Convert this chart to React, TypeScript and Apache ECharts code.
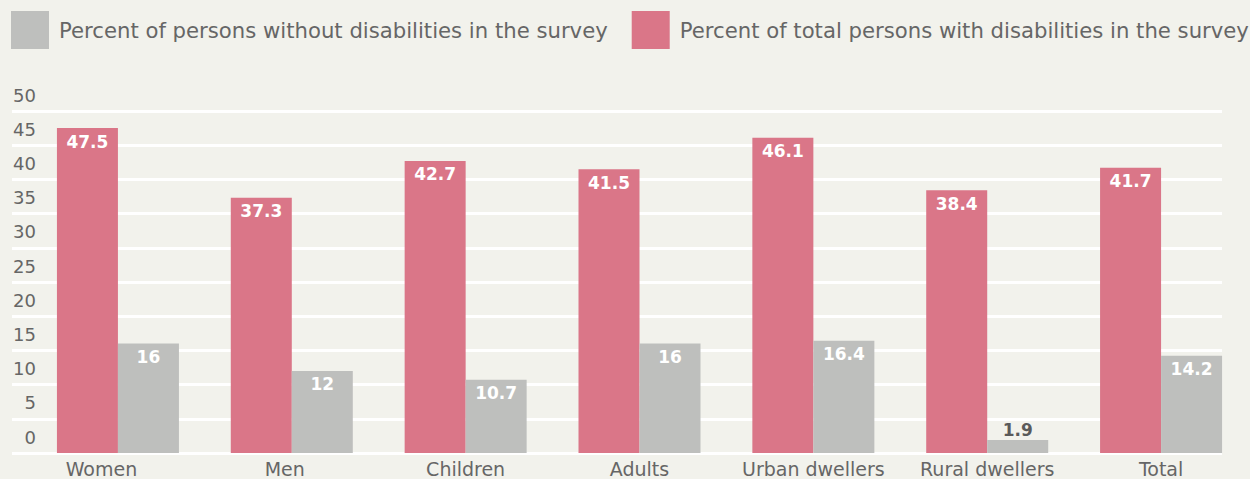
import React, { useEffect, useRef } from "react";
import * as echarts from "echarts";

const categories = ["Women", "Men", "Children", "Adults", "Urban dwellers", "Rural dwellers", "Total"];
const withDisabilities = [47.5, 37.3, 42.7, 41.5, 46.1, 38.4, 41.7];
const withoutDisabilities = [16, 12, 10.7, 16, 16.4, 1.9, 14.2];
const labelPadRight = [33, 14, 0, 0, 0, 0, 0];

const nameWithout = "Percent of persons without disabilities in the survey";
const nameWith = "Percent of total persons with disabilities in the survey";

const FONT = "'DejaVu Sans', sans-serif";
const PINK = "#da7688";
const GRAY = "#bebfbd";
const BG = "#f2f2ec";
const TXT = "#666666";

export default function App() {
  const ref = useRef<HTMLDivElement>(null);
  useEffect(() => {
    if (!ref.current) return;
    const chart = echarts.init(ref.current, null, { renderer: "svg" });
    const rich: any = {};
    labelPadRight.forEach((p, i) => {
      rich["c" + i] = { fontFamily: FONT, fontSize: 19, color: TXT, padding: [0, p, 0, 0] };
    });
    chart.setOption({
      animation: false,
      backgroundColor: BG,
      textStyle: { fontFamily: FONT },
      legend: {
        left: 11,
        top: 11,
        width: 1249,
        padding: 0,
        itemWidth: 38,
        itemHeight: 38,
        itemGap: 24,
        icon: "rect",
        data: [nameWithout, nameWith],
        textStyle: { fontFamily: FONT, fontSize: 21.2, color: TXT, padding: [7, 0, 0, 5] },
      },
      grid: [
        { left: 12, right: 28, top: 111, bottom: 26 },
        { left: 31, right: 2, top: 111, bottom: 26 },
      ],
      xAxis: [
        { gridIndex: 0, type: "value", show: false, min: 0, max: 1 },
        {
          gridIndex: 1,
          type: "category",
          data: categories,
          axisLine: { show: false },
          axisTick: { show: false },
          splitLine: { show: false },
          axisLabel: {
            interval: 0,
            margin: 6,
            fontFamily: FONT,
            fontSize: 19,
            color: TXT,
            formatter: (v: string, i: number) => `{c${i}|${v}}`,
            rich,
          },
        },
      ],
      yAxis: [
        {
          gridIndex: 0,
          type: "value",
          min: 0,
          max: 50,
          interval: 5,
          axisLine: { show: false },
          axisTick: { show: false },
          splitLine: { show: true, lineStyle: { color: "#ffffff", width: 3 } },
          axisLabel: {
            margin: -24,
            align: "right",
            verticalAlign: "bottom",
            padding: [0, 0, 7, 0],
            fontFamily: FONT,
            fontSize: 18,
            color: TXT,
          },
        },
        { gridIndex: 1, type: "value", min: 0, max: 50, interval: 5, show: false, splitLine: { show: false } },
      ],
      series: [
        {
          name: nameWith,
          type: "bar",
          xAxisIndex: 1,
          yAxisIndex: 1,
          barWidth: 61,
          barGap: "0%",
          itemStyle: { color: PINK },
          data: withDisabilities,
          label: {
            show: true,
            position: "insideTop",
            distance: 5,
            color: "#ffffff",
            fontFamily: FONT,
            fontWeight: "bold",
            fontSize: 17,
          },
        },
        {
          name: nameWithout,
          type: "bar",
          xAxisIndex: 1,
          yAxisIndex: 1,
          barWidth: 61,
          barGap: "0%",
          itemStyle: { color: GRAY },
          data: withoutDisabilities.map((v) =>
            v < 5 ? { value: v, label: { position: "top", distance: 2, color: "#5a5a5a" } } : v
          ),
          label: {
            show: true,
            position: "insideTop",
            distance: 5,
            color: "#ffffff",
            fontFamily: FONT,
            fontWeight: "bold",
            fontSize: 17,
          },
        },
      ],
    });
    return () => chart.dispose();
  }, []);
  return (
    <div
      ref={ref}
      style={{ position: "fixed", left: 0, top: 0, width: 1250, height: 479, background: BG }}
    />
  );
}
